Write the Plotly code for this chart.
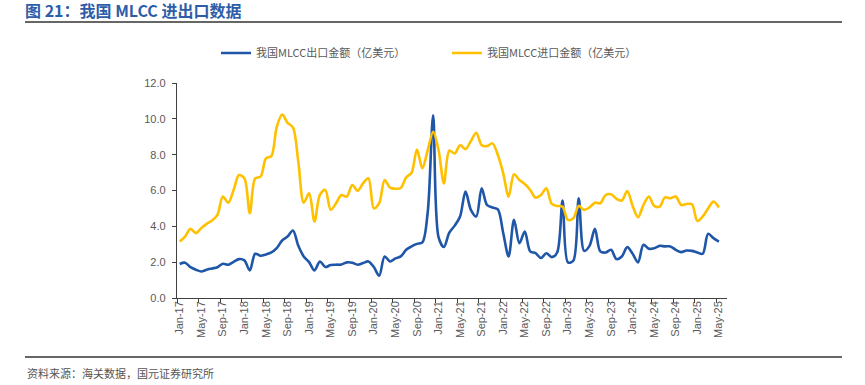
import plotly.graph_objects as go

W, H = 865, 385

# ---- data ----
months = [f"{m}-{y:02d}" for y in range(17, 26)
          for m in ["Jan", "Feb", "Mar", "Apr", "May", "Jun", "Jul", "Aug", "Sep", "Oct", "Nov", "Dec"]][:101]

tick_labels = ["Jan-17", "May-17", "Sep-17", "Jan-18", "May-18", "Sep-18", "Jan-19", "May-19", "Sep-19",
               "Jan-20", "May-20", "Sep-20", "Jan-21", "May-21", "Sep-21", "Jan-22", "May-22", "Sep-22",
               "Jan-23", "May-23", "Sep-23", "Jan-24", "May-24", "Sep-24", "Jan-25", "May-25"]

export_usd = [1.90, 1.97, 1.72, 1.58, 1.48, 1.58, 1.65, 1.72, 1.91, 1.86, 2.02, 2.17, 2.10, 1.54, 2.47,
              2.36, 2.43, 2.54, 2.78, 3.21, 3.43, 3.77, 2.91, 2.32, 2.00,
              1.54, 2.04, 1.73, 1.84, 1.86, 1.87, 1.99, 1.97, 1.86, 1.95, 2.04, 1.73, 1.24, 2.32, 2.04,
              2.21, 2.32, 2.69, 2.88, 3.02, 3.10, 4.80, 10.20,
              3.40, 2.85, 3.65, 4.04, 4.55, 5.94, 4.92, 4.55, 6.12, 5.19, 5.05, 4.95, 3.62, 2.32, 4.36,
              3.06, 3.71, 2.60, 2.50, 2.23, 2.50, 2.28, 2.54, 5.44, 1.99, 2.08, 5.57,
              2.63, 2.91, 3.86, 2.60, 2.54, 2.69, 2.17, 2.32, 2.84, 2.47, 1.99, 2.97, 2.75, 2.78, 2.91,
              2.88, 2.88, 2.69, 2.56, 2.65, 2.63, 2.54, 2.47, 3.58, 3.34, 3.15]

import_usd = [3.15, 3.43, 3.86, 3.62, 3.90, 4.14, 4.32, 4.64, 5.66, 5.32, 6.03, 6.86, 6.68, 4.73, 6.68,
              6.77, 7.79, 7.92, 9.55, 10.24, 9.78, 9.52, 7.60, 5.32, 5.84,
              4.27, 5.75, 6.03, 4.92, 5.29, 5.75, 5.66, 6.31, 5.99, 6.40, 6.68, 5.00, 5.29, 6.59, 6.16,
              6.10, 6.14, 6.73, 6.99, 8.29, 7.24, 8.26, 9.28,
              8.26, 6.40, 8.22, 8.07, 8.53, 8.31, 8.76, 9.22, 8.53, 8.48, 8.63, 7.98, 6.96, 5.66, 6.90,
              6.59, 6.36, 6.03, 5.60, 5.75, 6.12, 5.25, 5.14, 5.10, 4.36, 4.45, 5.14,
              4.92, 5.06, 5.32, 5.29, 5.75, 5.79, 5.53, 5.44, 5.97, 5.14, 4.51, 5.19, 5.66, 5.14, 5.10,
              5.62, 5.57, 5.66, 5.19, 5.25, 5.23, 4.30, 4.55, 5.00, 5.38, 5.05]

series_names = ["我国MLCC出口金额（亿美元）", "我国MLCC进口金额（亿美元）"]
title_text = "图 21：我国 MLCC 进出口数据"
source_text = "资料来源：海关数据，国元证券研究所"

# ---- styling ----
BLUE = "#1F56A8"
GOLD = "#FFC000"
GREY = "#595959"
FONT = "Liberation Sans, Noto Sans CJK SC, sans-serif"
CJK = "Noto Sans CJK SC, sans-serif"

x_idx = list(range(len(months)))
label_pos = [months.index(t) for t in tick_labels]
tick_pos = [p - 0.5 for p in label_pos]
x_range = [-0.5, 101.5]

# plot area in pixels; paper covers the whole figure (zero margins)
PL, PR, PT, PB = 177, 727, 83, 298


def px(x):
    return x / W


def py(y):
    return 1 - y / H


x_dom = [px(PL), px(PR)]
y_dom = [py(PB), py(PT)]

fig = go.Figure()
fig.add_trace(go.Scatter(x=x_idx, y=export_usd, name=series_names[0], mode="lines",
                         line=dict(color=BLUE, width=2.6, shape="spline", smoothing=0.9)))
fig.add_trace(go.Scatter(x=x_idx, y=import_usd, name=series_names[1], mode="lines",
                         line=dict(color=GOLD, width=2.6, shape="spline", smoothing=0.9)))
# invisible helper trace so the label axis is rendered
fig.add_trace(go.Scatter(x=[x_range[0]], y=[0], xaxis="x2", mode="markers",
                         marker=dict(opacity=0), showlegend=False, hoverinfo="skip"))

fig.update_layout(
    width=W, height=H,
    margin=dict(l=0, r=0, t=0, b=0, pad=0, autoexpand=False),
    paper_bgcolor="white", plot_bgcolor="white",
    font=dict(family=FONT, color=GREY, size=11),
    showlegend=True,
    legend=dict(orientation="h", x=px(216), y=py(53), xanchor="left", yanchor="middle",
                font=dict(family=CJK, size=11, color=GREY),
                entrywidth=186, entrywidthmode="pixels",
                bgcolor="rgba(0,0,0,0)", borderwidth=0),
    xaxis=dict(domain=x_dom, range=x_range, tickmode="array", tickvals=tick_pos,
               ticktext=[""] * len(tick_pos),
               ticks="outside", ticklen=4, tickcolor="#404040", tickwidth=1,
               showline=True, linecolor="#404040", linewidth=1.3,
               showgrid=False, zeroline=False, fixedrange=True),
    xaxis2=dict(domain=x_dom, range=x_range, overlaying="x", anchor="y", side="bottom", matches="x",
                tickmode="array", tickvals=label_pos, ticktext=tick_labels, tickangle=-90,
                ticks="", showline=False, showgrid=False, zeroline=False,
                tickfont=dict(family=FONT, size=11, color=GREY)),
    yaxis=dict(domain=y_dom, range=[0, 12], tickmode="array", tickvals=[0, 2, 4, 6, 8, 10, 12],
               tickformat=".1f", ticks="outside", ticklen=4, tickcolor="#404040",
               showline=True, linecolor="#404040", linewidth=1.3,
               showgrid=False, zeroline=False, ticklabelstandoff=4,
               tickfont=dict(family=FONT, size=11, color=GREY)),
)

# title, rules and source (paper = whole figure)
fig.add_annotation(text=title_text, xref="paper", yref="paper", x=px(23), y=py(10),
                   showarrow=False, xanchor="left", yanchor="middle",
                   font=dict(family=CJK, size=16, color="#2E5DA8", weight="bold"))
for rule_y in (22, 357):
    fig.add_shape(type="line", xref="paper", yref="paper", layer="above",
                  x0=px(25), x1=px(842), y0=py(rule_y), y1=py(rule_y),
                  line=dict(color="#333333", width=1.5))
fig.add_annotation(text=source_text, xref="paper", yref="paper", x=px(25), y=py(373),
                   showarrow=False, xanchor="left", yanchor="middle",
                   font=dict(family=CJK, size=11, color="#555555"))

fig.write_html("out.html", config={"displayModeBar": False},
               post_script="document.body.style.margin='0';document.body.style.overflow='hidden';")
